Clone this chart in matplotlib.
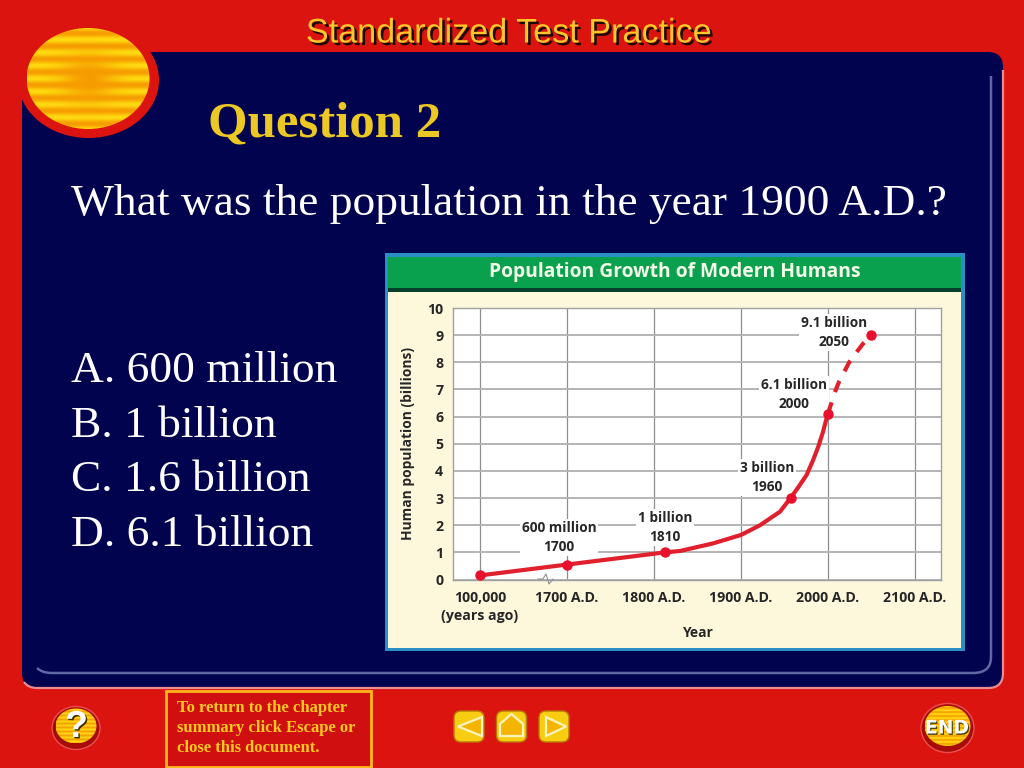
import numpy as np
import matplotlib
matplotlib.use('Agg')
import matplotlib.pyplot as plt
import matplotlib.patheffects as pe
from matplotlib.patches import FancyBboxPatch, Ellipse, Rectangle, Polygon, PathPatch
from matplotlib.path import Path
from matplotlib.colors import LinearSegmentedColormap

# chart data (x = position on the year axis, 1600 slot is the "100,000 years ago" tick)
solid_years = [1600, 1700, 1813, 1830, 1868, 1900, 1922, 1945, 1957, 1966, 1975.5, 1983, 1989, 1994, 1998, 2000]
solid_pop = [0.15, 0.55, 1.0, 1.05, 1.33, 1.64, 2.0, 2.5, 3.0, 3.4, 3.85, 4.4, 4.9, 5.4, 5.88, 6.1]
dashed_years = [2000, 2008, 2013, 2025, 2040, 2050]
dashed_pop = [6.1, 6.9, 7.3, 8.03, 8.67, 9.0]
marker_years = [1600, 1700, 1813, 1957, 2000, 2050]
marker_pop = [0.15, 0.55, 1.0, 3.0, 6.1, 9.0]
tick_years = [1600, 1700, 1800, 1900, 2000, 2100]
tick_labels = ['100,000\n(years ago)', '1700 A.D.', '1800 A.D.', '1900 A.D.', '2000 A.D.', '2100 A.D.']
note_text = ['600 million\n1700', '1 billion\n1810', '3 billion\n1960', '6.1 billion\n2000', '9.1 billion\n2050']
note_x = [1691, 1813, 1930, 1961, 2007]
note_y = [1.53, 1.93, 3.77, 6.83, 9.1]
answers = ['A. 600 million', 'B. 1 billion', 'C. 1.6 billion', 'D. 6.1 billion']
answer_y = [382, 437, 491, 546]
footer = ['To return to the chapter', 'summary click Escape or', 'close this document.']
footer_y = [708, 728, 748]

red = '#dc1410'
navy = '#02034f'
yellow = '#ecc824'
dark = '#262626'

fig = plt.figure(figsize=(10.24, 7.68), dpi=100, facecolor=red)

# slide frame, drawn in pixel coordinates
bg = fig.add_axes([0, 0, 1, 1])
bg.axis('off')

stripe_cmap = LinearSegmentedColormap.from_list('stripe', ['#f69c00', '#ffdc10'])


def striped(cx, cy, w, h, period, blob=False):
    # soft horizontal bands clipped to an ellipse
    yy, xx = np.mgrid[cy - h / 2:cy + h / 2:200j, cx - w / 2:cx + w / 2:200j]
    img = 0.5 + 0.5 * np.sin(2 * np.pi * (yy - cy) / period + np.pi / 2)
    if blob:
        img = img * (1 - np.exp(-(((xx - cx) / 28) ** 2 + ((yy - cy) / 24) ** 2)))
    im = bg.imshow(img, cmap=stripe_cmap, extent=[cx - w / 2, cx + w / 2, cy + h / 2, cy - h / 2],
                   aspect='auto', zorder=3)
    clip = Ellipse((cx, cy), w, h, fc='none', ec='none', transform=bg.transData)
    bg.add_patch(clip)
    im.set_clip_path(clip)


bg.add_patch(FancyBboxPatch((22, 52), 981, 636, boxstyle='round,pad=0,rounding_size=15',
                            fc=navy, ec='none', zorder=1))
# light edge along right and bottom of the panel, and the inner line
edge = Path([(1003, 70), (1003, 673), (1003, 688), (988, 688), (37, 688), (28, 688), (24, 682)],
            [Path.MOVETO, Path.LINETO, Path.CURVE3, Path.CURVE3, Path.LINETO, Path.CURVE3, Path.CURVE3])
bg.add_patch(PathPatch(edge, fc='none', ec='#e88c92', lw=1.6, zorder=2))
inner = Path([(991, 76), (991, 657), (991, 673), (973, 673), (52, 673), (42, 673), (37, 668)],
             [Path.MOVETO, Path.LINETO, Path.CURVE3, Path.CURVE3, Path.LINETO, Path.CURVE3, Path.CURVE3])
bg.add_patch(PathPatch(inner, fc='none', ec='#5f68a4', lw=1.8, zorder=2))

# logo
bg.add_patch(Ellipse((88.5, 80), 141, 116, fc=red, ec='none', zorder=2))
striped(88, 78.5, 123, 101, 13, blob=True)

bg.text(508.5, 42.5, 'Standardized Test Practice', color='#ffc62a', ha='center', va='baseline',
        fontsize=24.6, family='Liberation Sans', zorder=5,
        path_effects=[pe.withSimplePatchShadow(offset=(1.8, -1.8), shadow_rgbFace='#1a0a00', alpha=1)])
bg.text(208, 137, 'Question 2', color=yellow, fontsize=36.6, fontweight='bold',
        family='Liberation Serif', va='baseline', zorder=5)
bg.text(71, 215, 'What was the population in the year 1900 A.D.?', color='white', fontsize=32.7,
        family='Liberation Serif', va='baseline', zorder=5)
for txt, y in zip(answers, answer_y):
    bg.text(71, y, txt, color='white', fontsize=32.7, family='Liberation Serif', va='baseline', zorder=5)

# chart card
bg.add_patch(Rectangle((385, 253), 580, 398, fc='#2a8fc4', ec='none', zorder=2))
bg.add_patch(Rectangle((388, 257), 573, 391, fc='#fdf8dc', ec='none', zorder=3))
bg.add_patch(Rectangle((388, 257), 573, 31, fc='#0aa14e', ec='none', zorder=3))
bg.add_patch(Rectangle((388, 288), 573, 4, fc='#06402a', ec='none', zorder=3))
bg.text(674.5, 272, 'Population Growth of Modern Humans', color='#f4fbe8', ha='center', va='center',
        fontsize=13.9, fontweight='bold', family='Open Sans', zorder=4)

# footer
bg.add_patch(Rectangle((166, 691), 205, 76, fc='#d01010', ec='#ffb81c', lw=2, zorder=2))
for txt, y in zip(footer, footer_y):
    bg.text(177, y, txt, color='#ffc820', fontsize=12, fontweight='bold',
            family='Liberation Serif', va='center', zorder=4)

# question and end buttons
bg.add_patch(Ellipse((76, 728), 48, 43, fc='#a80c08', ec='#e85050', lw=1, zorder=2))
striped(76, 726, 41, 35, 4)
bg.text(76.5, 727, '?', color='white', fontsize=27, fontweight='bold', family='Liberation Sans',
        ha='center', va='center', zorder=5,
        path_effects=[pe.withSimplePatchShadow(offset=(1, -1), shadow_rgbFace='#3a2a00', alpha=1)])
bg.add_patch(Ellipse((947.5, 728), 53, 49, fc='#a80c08', ec='#e85050', lw=1, zorder=2))
striped(947.5, 726, 46, 40, 4)
bg.text(947, 728, 'END', color='white', fontsize=13.5, fontweight='bold', family='DejaVu Sans',
        ha='center', va='center', zorder=5,
        path_effects=[pe.withSimplePatchShadow(offset=(0.8, -1), shadow_rgbFace='#4a4010', alpha=1)])

# nav buttons
for cx in [469, 511.5, 554]:
    bg.add_patch(FancyBboxPatch((cx - 15, 711), 30, 31, boxstyle='round,pad=0,rounding_size=7',
                                fc='#f8cc10', ec='#b87808', lw=1, zorder=3))
bg.add_patch(Polygon([[482, 717], [482, 736], [458, 726.5]], fc='#f4b400', ec='#fff4c0', lw=1.6, zorder=4))
bg.add_patch(Polygon([[511.5, 714], [523, 724], [523, 736], [500, 736], [500, 724]],
                     fc='#f4b400', ec='#fff4c0', lw=1.6, zorder=4))
bg.add_patch(Polygon([[546, 717], [546, 736], [566, 726.5]], fc='#f4b400', ec='#fff4c0', lw=1.6, zorder=4))

bg.set_xlim(0, 1024)
bg.set_ylim(768, 0)

# the chart itself
ax = fig.add_axes([453 / 1024, 1 - 579.5 / 768, 488 / 1024, 271.5 / 768])
ax.set_facecolor('white')
ax.set_xlim(1569, 2130)
ax.set_ylim(0, 10)
ax.set_yticks(range(0, 11))
ax.set_xticks(tick_years)
ax.set_xticklabels(tick_labels)
ax.grid(True, axis='y', color='#b4b4b4', lw=1.4)
ax.grid(True, axis='x', color='#8e8e8e', lw=0.9)
ax.set_axisbelow(True)
for s in ax.spines.values():
    s.set_color('#a0a0a0')
    s.set_linewidth(1)
ax.tick_params(length=0, labelcolor=dark)
ax.tick_params(axis='x', pad=8)
ax.tick_params(axis='y', pad=7)
for lab in ax.get_xticklabels() + ax.get_yticklabels():
    lab.set_family('Open Sans')
    lab.set_fontweight('bold')
    lab.set_fontsize(10.2)
for lab in ax.get_xticklabels():
    lab.set_verticalalignment('top')
    lab.set_linespacing(1.4)

ax.plot(solid_years, solid_pop, color='#e0202c', lw=3, solid_joinstyle='round', zorder=4)
ax.plot(dashed_years, dashed_pop, color='#e0202c', lw=3, dashes=(2.9, 2.6), zorder=4)
ax.plot(marker_years, marker_pop, 'o', color='#e8102c', ms=6.5, zorder=5)

for txt, x, y in zip(note_text, note_x, note_y):
    ax.text(x, y, txt, ha='center', va='center', fontsize=9.8, fontweight='bold', family='Open Sans',
            color=dark, linespacing=1.45, zorder=3,
            bbox=dict(fc='white', ec='none', pad=1.5))

ax.set_ylabel('Human population (billions)', fontsize=9.9, fontweight='bold', family='Open Sans',
              color=dark, labelpad=9)
ax.set_xlabel('Year', fontsize=10, fontweight='bold', family='Open Sans', color=dark, labelpad=2)

# axis break mark
ax.plot([538, 543, 546, 549, 553], [579, 579, 574, 584, 579], color='#909090', lw=0.8,
        transform=bg.transData, clip_on=False, zorder=3)

fig.savefig('out.png', dpi=100, facecolor=red)
